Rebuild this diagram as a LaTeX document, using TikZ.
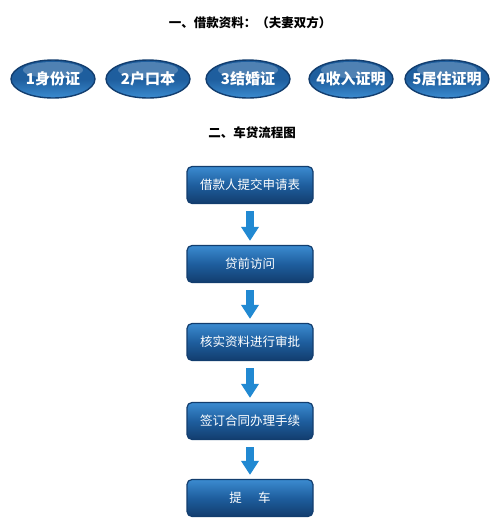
\documentclass[tikz,border=0pt]{standalone}
\usepackage{fontspec}
\setmainfont{Noto Sans CJK SC}
\usetikzlibrary{arrows.meta,shapes.geometric}

\definecolor{navy}{HTML}{123D6E}
\definecolor{midblue}{HTML}{1E5E9E}
\definecolor{liteblue}{HTML}{3B8BD0}
\definecolor{arrowblue}{HTML}{2189D2}

\tikzset{
  oval/.style={ellipse,draw=navy,line width=1.4pt,minimum width=84pt,minimum height=38pt,
    inner xsep=-5pt,inner ysep=0pt,top color=midblue,bottom color=liteblue,middle color=midblue,
    text=white,font=\bfseries\fontsize{15}{15}\selectfont},
  stepbox/.style={rectangle,rounded corners=5pt,draw=navy,line width=1.2pt,
    minimum width=126pt,minimum height=37pt,inner sep=0pt,
    top color=liteblue,bottom color=navy,middle color=midblue,
    text=white,font=\fontsize{12.5}{12.5}\selectfont},
  flow/.style={arrowblue,line width=8pt,shorten <=7pt,shorten >=4pt,
    -{Triangle[width=17pt,length=14pt]}},
  heading/.style={font=\bfseries\fontsize{12.5}{12.5}\selectfont}
}

\begin{document}
\begin{tikzpicture}[x=1pt,y=-1pt]
\useasboundingbox (0,0) rectangle (500,531);

% section one
\node[heading] (t1) at (250,23) {一、借款资料：（夫妻双方）};

\node[oval] (d1) at (53,79)  {1身份证};
\node[oval] (d2) at (148,79) {2户口本};
\node[oval] (d3) at (248,79) {3结婚证};
\node[oval] (d4) at (351,79) {4收入证明};
\node[oval] (d5) at (447,79) {5居住证明};

% gloss on the ovals
\foreach \x in {53,148,248,351,447}
  \fill[white,opacity=0.22] (\x,70) ellipse (30pt and 8pt);

% section two
\node[heading] (t2) at (252,133) {二、车贷流程图};

\node[stepbox] (s1) at (250,185) {借款人提交申请表};
\node[stepbox] (s2) at (250,264) {贷前访问};
\node[stepbox] (s3) at (250,342) {核实资料进行审批};
\node[stepbox] (s4) at (250,421) {签订合同办理手续};
\node[stepbox] (s5) at (250,498) {提\hspace{1.3em}车};

\draw[flow] (s1.south) -- (s2.north);
\draw[flow] (s2.south) -- (s3.north);
\draw[flow] (s3.south) -- (s4.north);
\draw[flow] (s4.south) -- (s5.north);

\end{tikzpicture}
\end{document}
